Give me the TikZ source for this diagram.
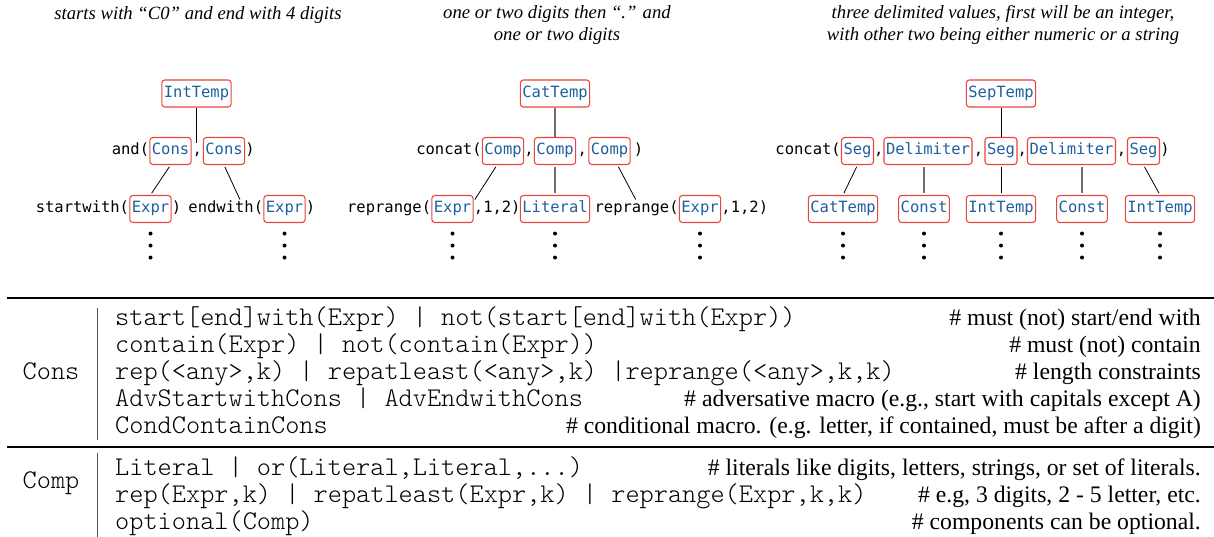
\documentclass[tikz,border=0pt]{standalone}
\usepackage{fontspec}
\setmainfont{Liberation Serif}
\setmonofont{Latin Modern Mono Light}
\newfontfamily\treefont{DejaVu Sans Mono}
\usetikzlibrary{positioning,calc}

\definecolor{boxred}{HTML}{E8453C}
\definecolor{boxblue}{HTML}{1F5F9E}
\definecolor{linegray}{HTML}{6E6E6E}
\definecolor{bargray}{HTML}{555555}

\tikzset{
  tbox/.style={draw=boxred, rounded corners=3pt, line width=1.1pt, text=boxblue,
    font=\treefont\fontsize{15.5}{18}\selectfont, inner xsep=2pt, inner ysep=6pt,
    text height=11.5pt, text depth=3.5pt},
  fn/.style={font=\treefont\fontsize{15.5}{18}\selectfont, inner sep=0pt,
    text height=11.5pt, text depth=3.5pt},
  bline/.style={line width=0.8pt},
  gline/.style={line width=2pt, draw=linegray},
  sh/.style={shorten <=2pt, shorten >=2pt},
  captxt/.style={font=\itshape\fontsize{18.7}{22}\selectfont, align=center},
  code/.style={font=\ttfamily\fontsize{27}{30}\selectfont, anchor=base west, inner sep=0pt},
  note/.style={font=\fontsize{23.7}{28}\selectfont, anchor=base east, inner sep=0pt},
}

\begin{document}
\begin{tikzpicture}[x=1pt,y=-1pt]
\useasboundingbox (0,0) rectangle (1214,537);

% captions
\node[captxt] (cap1) at (198,15) {starts with “C0” and end with 4 digits};
\node[captxt] (cap2) at (557,25) {one or two digits then “.” and\\one or two digits};
\node[captxt] (cap3) at (1003,25) {three delimited values, first will be an integer,\\with other two being either numeric or a string};

% IntTemp tree
\node[tbox] (it) at (196.5,93.5) {IntTemp};
\node[tbox] (c1) at (170.5,151) {Cons};
\node[tbox] (c2) at (224,151) {Cons};
\node[fn, left=0pt of c1] (and) {and(};
\node[fn] (k1) at ($(c1.east)!.5!(c2.west)$) {,};
\node[fn, right=0pt of c2] {)};
\node[tbox] (e1) at (150.5,209) {Expr};
\node[fn, left=0pt of e1] (sw) {startwith(};
\node[fn, right=0pt of e1] {)};
\node[tbox] (e2) at (284.5,209) {Expr};
\node[fn, left=0pt of e2] (ew) {endwith(};
\node[fn, right=0pt of e2] {)};
\draw[bline] (it.south) -- (it.south |- k1.north);
\draw[bline, sh] (c1.south) -- (e1.north);
\draw[bline, sh] (c2.south) -- ([xshift=15pt]ew.north);

% CatTemp tree
\node[tbox] (ct) at (555,93.5) {CatTemp};
\node[tbox] (p1) at (503,151) {Comp};
\node[tbox] (p2) at (555,151) {Comp};
\node[tbox] (p3) at (609.5,151) {Comp};
\node[fn, left=0pt of p1] {concat(};
\node[fn] at ($(p1.east)!.5!(p2.west)$) {,};
\node[fn] at ($(p2.east)!.5!(p3.west)$) {,};
\node[fn, right=3pt of p3] {)};
\node[tbox] (e3) at (452.5,209) {Expr};
\node[fn, left=0pt of e3] {reprange(};
\node[fn, right=0pt of e3] (n1) {,1,2)};
\node[tbox] (lt) at (555,209) {Literal};
\node[tbox] (e4) at (700,209) {Expr};
\node[fn, left=0pt of e4] (rp) {reprange(};
\node[fn, right=0pt of e4] {,1,2)};
\draw[gline] (ct.south) -- (p2.north);
\draw[bline, sh] ([xshift=-6pt]p1.south) -- (n1.north west);
\draw[gline, sh] (p2.south) -- (lt.north);
\draw[bline, sh] ([xshift=8pt]p3.south) -- (rp.north);

% SepTemp tree
\node[tbox] (st) at (1001,93.5) {SepTemp};
\node[tbox] (s1) at (857.5,151) {Seg};
\node[tbox] (d1) at (928,151) {Delimiter};
\node[tbox] (s2) at (1001,151) {Seg};
\node[tbox] (d2) at (1071.5,151) {Delimiter};
\node[tbox] (s3) at (1143.5,151) {Seg};
\node[fn, left=0pt of s1] {concat(};
\node[fn] at ($(s1.east)!.5!(d1.west)$) {,};
\node[fn] at ($(d1.east)!.5!(s2.west)$) {,};
\node[fn] at ($(s2.east)!.5!(d2.west)$) {,};
\node[fn] at ($(d2.east)!.5!(s3.west)$) {,};
\node[fn, right=0pt of s3] {)};
\node[tbox] (q1) at (843,209) {CatTemp};
\node[tbox] (q2) at (924,209) {Const};
\node[tbox] (q3) at (1001,209) {IntTemp};
\node[tbox] (q4) at (1082,209) {Const};
\node[tbox] (q5) at (1160,209) {IntTemp};
\draw[bline] (st.south) -- (s2.north);
\draw[bline, sh] (s1.south) -- (q1.north);
\draw[gline, sh] (q2.north |- d1.south) -- (q2.north);
\draw[bline, sh] (s2.south) -- (q3.north);
\draw[gline, sh] (q4.north |- d2.south) -- (q4.north);
\draw[bline, sh] (s3.south) -- (q5.north);

% vertical dots
\foreach \n in {e1,e2,e3,lt,e4,q1,q2,q3,q4,q5}
  \foreach \d in {0,1,2}
    \fill ([yshift={-10.5-12*\d}]\n.south) circle (2);

% grammar table
\draw[line width=2pt] (7,298) -- (1214,298);
\draw[line width=1.3pt] (7,447) -- (1214,447);
\draw[bargray, line width=0.9pt] (97,308) -- (97,440);
\draw[bargray, line width=0.9pt] (97,453) -- (97,537);

\node[code, anchor=base] (cons) at (51,379) {Cons};
\node[code] (r1) at (115,325) {start[end]with(Expr) | not(start[end]with(Expr))};
\node[code] (r2) at (115,352) {contain(Expr) | not(contain(Expr))};
\node[code] (r3) at (115,379) {rep(<any>,k) | repatleast(<any>,k) |reprange(<any>,k,k)};
\node[code] (r4) at (115,406) {AdvStartwithCons | AdvEndwithCons};
\node[code] (r5) at (115,433) {CondContainCons};
\node[note] (m1) at (1201,325) {\# must (not) start/end with};
\node[note] (m2) at (1201,352) {\# must (not) contain};
\node[note] (m3) at (1201,379) {\# length constraints};
\node[note] (m4) at (1201,406) {\# adversative macro (e.g., start with capitals except A)};
\node[note] (m5) at (1201,433) {\# conditional macro. (e.g. letter, if contained, must be after a digit)};

\node[code, anchor=base] (comp) at (51,488) {Comp};
\node[code] (r6) at (115,475) {Literal | or(Literal,Literal,...)};
\node[code] (r7) at (115,502) {rep(Expr,k) | repatleast(Expr,k) | reprange(Expr,k,k)};
\node[code] (r8) at (115,529) {optional(Comp)};
\node[note] (m6) at (1201,475) {\# literals like digits, letters, strings, or set of literals.};
\node[note] (m7) at (1201,502) {\# e.g, 3 digits, 2 - 5 letter, etc.};
\node[note] (m8) at (1201,529) {\# components can be optional.};
\end{tikzpicture}
\end{document}
